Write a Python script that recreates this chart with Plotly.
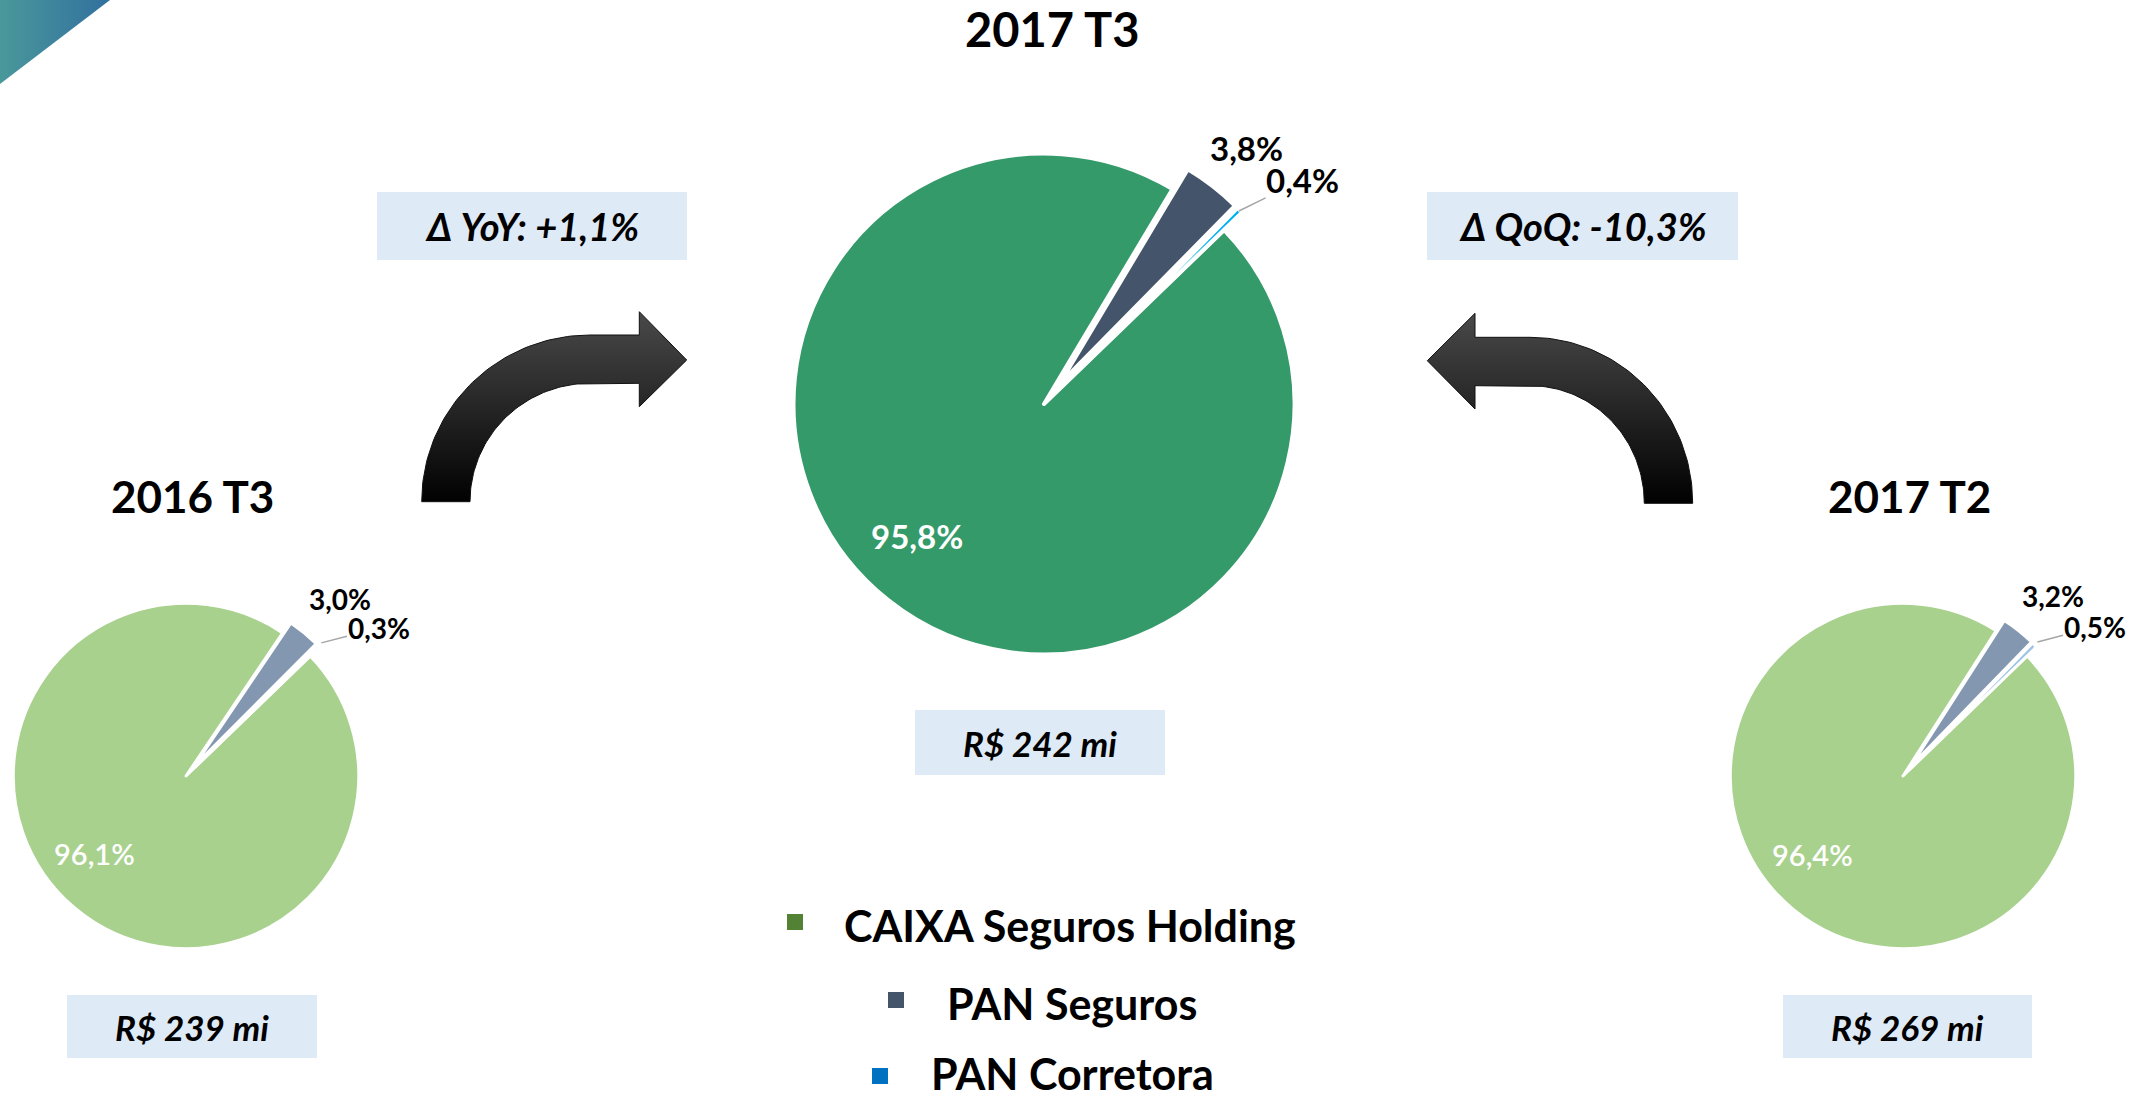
import numpy as np
import plotly.graph_objects as go

W, H = 2146, 1100

# ---------------- data ----------------
segments = ["CAIXA Seguros Holding", "PAN Seguros", "PAN Corretora"]
periods = ["2016 T3", "2017 T3", "2017 T2"]
share_2016_t3 = [96.1, 3.0, 0.3]
share_2017_t3 = [95.8, 3.8, 0.4]
share_2017_t2 = [96.4, 3.2, 0.5]
totals_mi = [239, 242, 269]
delta_yoy = 1.1
delta_qoq = -10.3

def br(v, signed=False):
    s = f"{v:+.1f}" if signed else f"{v:.1f}"
    return s.replace(".", ",")

# ---------------- styles ----------------
FONT = "Lato"
dark_colors = ["#359A6A", "#44546A", "#00B0F0"]
light_colors = ["#A9D18E", "#8497B0", "#9DC3E6"]
legend_colors = ["#548235", "#44546A", "#0070C0"]
BOX = "#DEEAF6"
ROT = 46

fig = go.Figure()
fig.update_layout(
    xaxis=dict(range=[0, W], visible=False, fixedrange=True, domain=[0, 1]),
    yaxis=dict(range=[H, 0], visible=False, fixedrange=True, domain=[0, 1]),
)

shapes = []
annotations = []

def domain(cx, cy, r, pull):
    half = r * (1 + pull)
    return dict(x=[max(0, (cx - half) / W), min(1, (cx + half) / W)],
                y=[max(0, 1 - (cy + half) / H), min(1, 1 - (cy - half) / H)])

def polar(cx, cy, r, ang):
    a = np.radians(ang)
    return cx + r * np.sin(a), cy - r * np.cos(a)

def add_pie(vals, colors, cx, cy, r, pull, lw, in_size, in_weight, out_size, geo):
    fig.add_trace(go.Pie(
        labels=segments, values=vals, sort=False, direction="clockwise",
        rotation=ROT, pull=[0, pull, pull],
        marker=dict(colors=colors, line=dict(color="white", width=lw)),
        textinfo="none",
        domain=domain(cx, cy, r * 1.01, pull), hoverinfo="label+percent", showlegend=False,
    ))
    # slice angles from the data
    total = sum(vals)
    spans = [360 * v / total for v in vals]
    starts = np.cumsum([ROT] + spans[:-1])
    mids = [s + sp / 2 for s, sp in zip(starts, spans)]
    texts = [br(v) + "%" for v in vals]
    k_in, d_in, k2, d2, k3, d3, ktip = geo
    # big slice label (inside)
    x, y = polar(cx, cy, k_in * r, mids[0] + d_in)
    annotations.append(dict(x=x, y=y, xref="x", yref="y", text=texts[0], showarrow=False,
                            font=dict(family=FONT, size=in_size, color="white",
                                      weight=in_weight)))
    # second slice label (outside)
    x, y = polar(cx, cy, k2 * r, mids[1] + d2)
    annotations.append(dict(x=x, y=y, xref="x", yref="y", text=texts[1], showarrow=False,
                            font=dict(family=FONT, size=out_size, color="black", weight="bold")))
    # third slice label with leader line
    lx, ly = polar(cx, cy, k3 * r, mids[2] + d3)
    tx, ty = polar(cx, cy, ktip * r, mids[2])
    annotations.append(dict(x=tx, y=ty, xref="x", yref="y", ax=lx, ay=ly,
                            axref="x", ayref="y", text=texts[2], showarrow=True,
                            arrowhead=0, arrowwidth=1.5, arrowcolor="#A6A6A6", standoff=0,
                            borderpad=0,
                            font=dict(family=FONT, size=out_size, color="black", weight="bold")))

add_pie(share_2016_t3, light_colors, 186, 776, 171, 0.075, 3, 29, 600, 28,
        (0.70, 9.5, 1.37, 1.5, 1.42, 7.0, 1.11))
add_pie(share_2017_t3, dark_colors, 1044, 404, 248, 0.1, 4, 33, "bold", 33,
        (0.74, 5.5, 1.315, 0.7, 1.38, 3.8, 1.106))
add_pie(share_2017_t2, light_colors, 1903, 776, 171, 0.075, 3, 29, 600, 28,
        (0.70, 9.5, 1.37, 1.5, 1.42, 7.0, 1.11))

# ---------------- decorations ----------------
def arc(cx, cy, rx, ry, a0, a1, n=60):
    t = np.radians(np.linspace(a0, a1, n))
    return list(cx + rx * np.cos(t)), list(cy - ry * np.sin(t))

ox, oy = arc(590, 501.7, 168.3, 166.7, 180, 90)
ix, iy = arc(590, 501.7, 120, 118.4, 90, 180)
lx = ox + [639.3, 639.3, 686.7, 639.3, 639.3] + ix + [ox[0]]
ly = oy + [335, 311.7, 360, 406.7, 383.3] + iy + [oy[0]]

ox2, oy2 = arc(1530, 503.3, 162.7, 166, 0, 90)
ix2, iy2 = arc(1530, 503.3, 114.3, 117.6, 90, 0)
rx_ = ox2 + [1475, 1475, 1427.3, 1475, 1475] + ix2 + [ox2[0]]
ry_ = oy2 + [337.3, 313.3, 360.7, 409, 385.7] + iy2 + [oy2[0]]

for xs, ys in [(lx, ly), (rx_, ry_)]:
    fig.add_trace(go.Scatter(
        x=xs, y=ys, mode="lines", fill="toself",
        line=dict(color="#111111", width=1),
        fillgradient=dict(type="vertical", colorscale=[[0, "#4a4a4a"], [1, "#000000"]],
                          start=311, stop=505),
        hoverinfo="skip", showlegend=False))

fig.add_trace(go.Scatter(
    x=[0, 110, 0, 0], y=[0, 0, 84, 0], mode="lines", fill="toself",
    line=dict(width=0, color="rgba(0,0,0,0)"),
    fillgradient=dict(type="horizontal", colorscale=[[0, "#4A989B"], [1, "#31709E"]],
                      start=0, stop=110),
    hoverinfo="skip", showlegend=False))

def box(x0, y0, x1, y1, text, size):
    shapes.append(dict(type="rect", xref="x", yref="y", x0=x0, y0=y0, x1=x1, y1=y1,
                       fillcolor=BOX, line=dict(width=0), layer="below"))
    annotations.append(dict(x=(x0 + x1) / 2, y=(y0 + y1) / 2, xref="x", yref="y",
                            text=text, showarrow=False, xanchor="center", yanchor="middle",
                            font=dict(family=FONT, size=size, color="black",
                                      weight="bold", style="italic")))

box(377, 192, 687, 260, "Δ YoY: " + br(delta_yoy, True) + "%", 38)
box(1427, 192, 1738, 260, "Δ QoQ: " + br(delta_qoq, True) + "%", 38)
box(67, 995, 317, 1058, f"R$ {totals_mi[0]} mi", 35)
box(915, 710, 1165, 775, f"R$ {totals_mi[1]} mi", 35)
box(1783, 995, 2032, 1058, f"R$ {totals_mi[2]} mi", 35)

title_pos = [(192, 496, 44, "middle"), (1052, 0, 47, "top"), (1909, 496, 44, "middle")]
for (tx, ty, size, ya), label in zip(title_pos, periods):
    annotations.append(dict(x=tx, y=ty, xref="x", yref="y", text=label, showarrow=False,
                            xanchor="center", yanchor=ya, borderpad=0,
                            font=dict(family=FONT, size=size, color="black", weight="bold")))

legend_pos = [(795, 922, 843, 925, "middle"), (896, 1000, 946, 1003, "middle"),
              (880, 1076, 930, 1100, "bottom")]
for (mx, my, tx, ty, ya), name, col in zip(legend_pos, segments, legend_colors):
    shapes.append(dict(type="rect", xref="x", yref="y", x0=mx - 8, x1=mx + 8,
                       y0=my - 8, y1=my + 8, fillcolor=col, line=dict(width=0)))
    annotations.append(dict(x=tx, y=ty, xref="x", yref="y", text=name, showarrow=False,
                            xanchor="left", yanchor=ya, borderpad=0,
                            font=dict(family=FONT, size=43, color="black", weight="bold")))

fig.update_layout(
    width=W, height=H, margin=dict(l=0, r=0, t=0, b=0),
    paper_bgcolor="white", plot_bgcolor="white",
    showlegend=False, shapes=shapes, annotations=annotations,
    font=dict(family=FONT),
)

fig.write_html("out.html", config={"displayModeBar": False},
               post_script="document.body.style.margin='0';document.body.style.overflow='hidden';")
